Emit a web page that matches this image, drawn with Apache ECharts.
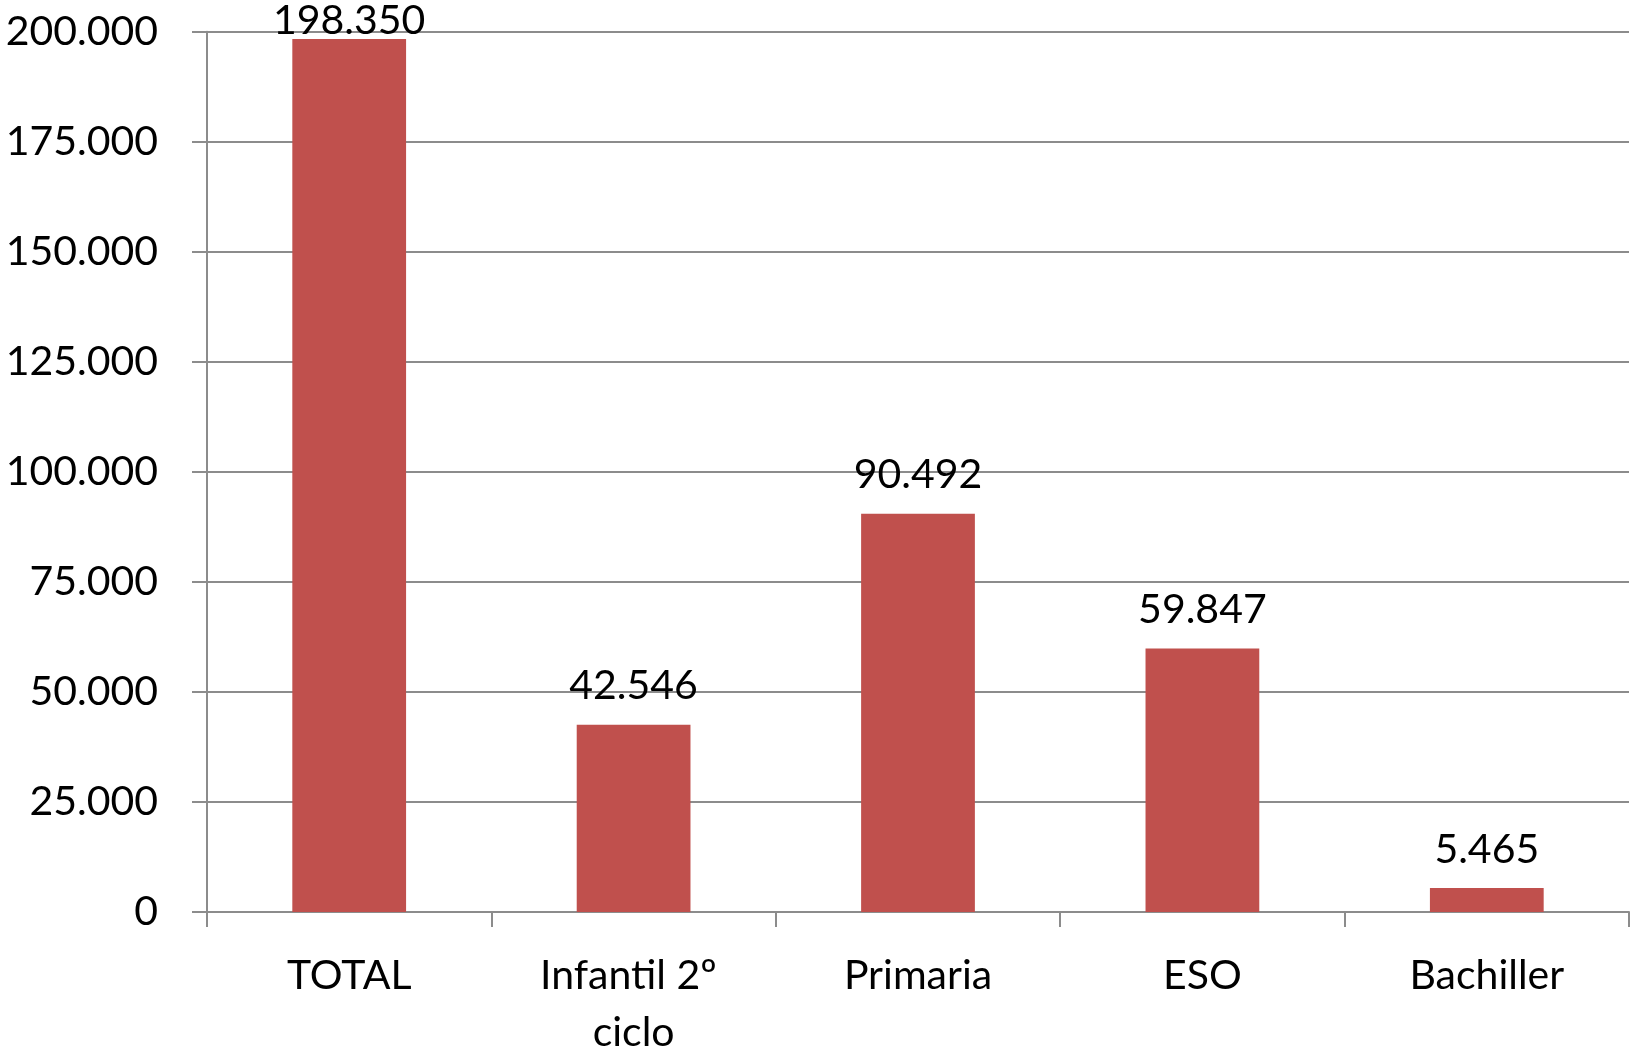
<!DOCTYPE html>
<html><head><meta charset="utf-8">
<script src="https://cdn.jsdelivr.net/npm/echarts@6/dist/echarts.min.js"></script>
<style>html,body{margin:0;padding:0;background:#fff}#c{width:1633px;height:1053px}</style>
</head><body><div id="c"></div>
<script>
var categories = ["TOTAL", "Infantil 2º ciclo", "Primaria", "ESO", "Bachiller"];
var values = [198350, 42546, 90492, 59847, 5465];
var yTicks = [0, 25000, 50000, 75000, 100000, 125000, 150000, 175000, 200000];

function fmt(v) {
  var s = String(Math.round(v));
  return s.replace(/\B(?=(\d{3})+(?!\d))/g, ".");
}
var FONT = "Lato";
var data = values.map(function (v, i) {
  var item = { value: v };
  if (i === 0) item.label = { distance: -2 };
  return item;
});
var chart = echarts.init(document.getElementById("c"));
chart.setOption({
  animation: false,
  grid: { left: 207, right: 4, top: 31.7, bottom: 141, containLabel: false, outerBoundsMode: "none" },
  xAxis: {
    type: "category",
    data: categories,
    axisLine: { lineStyle: { color: "#8c8c8c", width: 2 } },
    axisTick: { show: true, length: 15, lineStyle: { color: "#8c8c8c", width: 2 } },
    axisLabel: { color: "#000", fontFamily: FONT, fontSize: 41, margin: 35, lineHeight: 57,
      width: 270, overflow: "break", interval: 0 }
  },
  yAxis: {
    type: "value",
    min: yTicks[0], max: yTicks[yTicks.length - 1], interval: 25000,
    axisLine: { show: true, lineStyle: { color: "#8c8c8c", width: 2 } },
    axisTick: { show: true, length: 15, lineStyle: { color: "#8c8c8c", width: 2 } },
    splitLine: { show: true, lineStyle: { color: "#8c8c8c", width: 2 } },
    axisLabel: { color: "#000", fontFamily: FONT, fontSize: 41, margin: 49,
      formatter: function (v) { return fmt(v); } }
  },
  series: [{
    type: "bar",
    data: data,
    barWidth: "40%",
    itemStyle: { color: "#C0504D" },
    label: { show: true, position: "top", distance: 18, color: "#000", fontFamily: FONT, fontSize: 41,
      formatter: function (p) { return fmt(p.value); } }
  }]
});
</script></body></html>
